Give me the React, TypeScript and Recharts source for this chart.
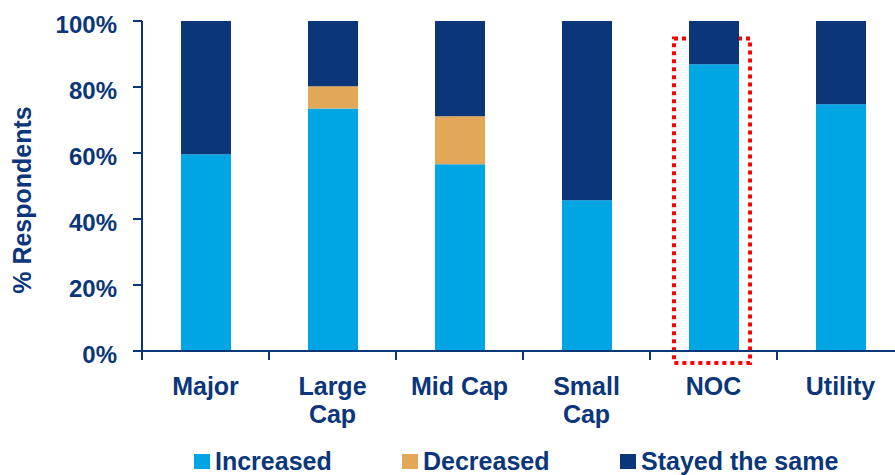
import React from 'react';
import { BarChart, Bar, XAxis, YAxis, Legend, ReferenceArea } from 'recharts';

const categories = ['Major', 'Large Cap', 'Mid Cap', 'Small Cap', 'NOC', 'Utility'];
const tickLines = [['Major'], ['Large', 'Cap'], ['Mid Cap'], ['Small', 'Cap'], ['NOC'], ['Utility']];
const increased = [59.6, 73.5, 56.6, 45.7, 86.9, 74.8];
const decreased = [0, 6.7, 14.5, 0, 0, 0];
const stayedSame = [40.4, 19.8, 28.9, 54.3, 13.1, 25.2];
const seriesNames = ['Increased', 'Decreased', 'Stayed the same'];
const yTicks = [0, 20, 40, 60, 80, 100];
const highlighted = 'NOC';

const data = categories.map((name, i) => ({
  name,
  increased: increased[i],
  decreased: decreased[i],
  stayed: stayedSame[i],
}));

const NAVY = '#0b3679';
const FONT = '"Liberation Sans", Arial, sans-serif';
const BAND = 127; // width of one category slot

const XTick = ({ x, y, payload, index }: any) => {
  const lines = tickLines[index] || [payload.value];
  const left = x - BAND / 2;
  return (
    <g>
      <line x1={left} y1={y} x2={left} y2={y + 9} stroke={NAVY} strokeWidth={2} />
      <text x={x} y={y + 44} textAnchor="middle" fill={NAVY} fontFamily={FONT} fontWeight="bold" fontSize={25}>
        {lines.map((l: string, k: number) => (
          <tspan key={k} x={x} dy={k === 0 ? 0 : 28}>{l}</tspan>
        ))}
      </text>
    </g>
  );
};

const YTick = ({ x, y, payload }: any) => (
  <text x={x} y={y + 12} textAnchor="end" fill={NAVY} fontFamily={FONT} fontWeight="bold" fontSize={24}>
    {`${payload.value}%`}
  </text>
);

const YLabel = ({ viewBox }: any) => {
  const cx = 22;
  const cy = viewBox.y + viewBox.height / 2 + 14;
  return (
    <text
      x={cx}
      y={cy}
      transform={`rotate(-90, ${cx}, ${cy})`}
      textAnchor="middle"
      dominantBaseline="central"
      fill={NAVY}
      fontFamily={FONT}
      fontWeight="bold"
      fontSize={25}
    >
      % Respondents
    </text>
  );
};

const HighlightBox = ({ x, y, width, height }: any) => (
  <rect
    x={x + 24}
    y={y}
    width={width - 51}
    height={height}
    fill="none"
    stroke="#ff0000"
    strokeWidth={4}
    strokeDasharray="4 4"
  />
);

const LegendContent = ({ payload }: any) => {
  const widths = [208, 218, 260];
  const items = [...(payload || [])].sort(
    (a: any, b: any) => seriesNames.indexOf(a.value) - seriesNames.indexOf(b.value)
  );
  return (
    <div style={{ display: 'flex', alignItems: 'center', fontFamily: FONT, fontWeight: 'bold', fontSize: 25, color: NAVY }}>
      {items.map((p: any, i: number) => (
        <div key={p.value} style={{ display: 'flex', alignItems: 'center', width: widths[i] }}>
          <span style={{ display: 'inline-block', width: 16, height: 15, background: p.color, marginRight: 5 }} />
          <span style={{ lineHeight: '28px' }}>{p.value}</span>
        </div>
      ))}
    </div>
  );
};

export default function App() {
  return (
    <div style={{ position: 'absolute', left: 0, top: 0, width: 895, height: 475, overflow: 'hidden', background: '#fff' }}>
      <BarChart
        width={910}
        height={475}
        data={data}
        margin={{ top: 21, right: 6, left: 0, bottom: 0 }}
        barSize={50}
      >
        <XAxis
          dataKey="name"
          height={124}
          tickLine={false}
          tickSize={0}
          tickMargin={0}
          interval={0}
          axisLine={{ stroke: NAVY, strokeWidth: 2 }}
          tick={<XTick />}
        />
        <YAxis
          width={142}
          domain={[0, 100]}
          ticks={yTicks}
          interval={0}
          tickSize={9}
          tickMargin={16}
          axisLine={{ stroke: NAVY, strokeWidth: 2 }}
          tickLine={{ stroke: NAVY, strokeWidth: 2 }}
          tick={<YTick />}
          label={<YLabel />}
        />
        <Bar dataKey="increased" name={seriesNames[0]} stackId="a" fill="#00a5e3" isAnimationActive={false} />
        <Bar dataKey="decreased" name={seriesNames[1]} stackId="a" fill="#e2a857" isAnimationActive={false} />
        <Bar dataKey="stayed" name={seriesNames[2]} stackId="a" fill={NAVY} isAnimationActive={false} />
        <ReferenceArea
          x1={highlighted}
          x2={highlighted}
          y1={-3.6}
          y2={94.7}
          ifOverflow="visible"
          shape={<HighlightBox />}
        />
        <Legend
          verticalAlign="middle"
          layout="horizontal"
          align="center"
          wrapperStyle={{ top: 447, left: 194, width: 700 }}
          content={<LegendContent />}
        />
      </BarChart>
    </div>
  );
}
